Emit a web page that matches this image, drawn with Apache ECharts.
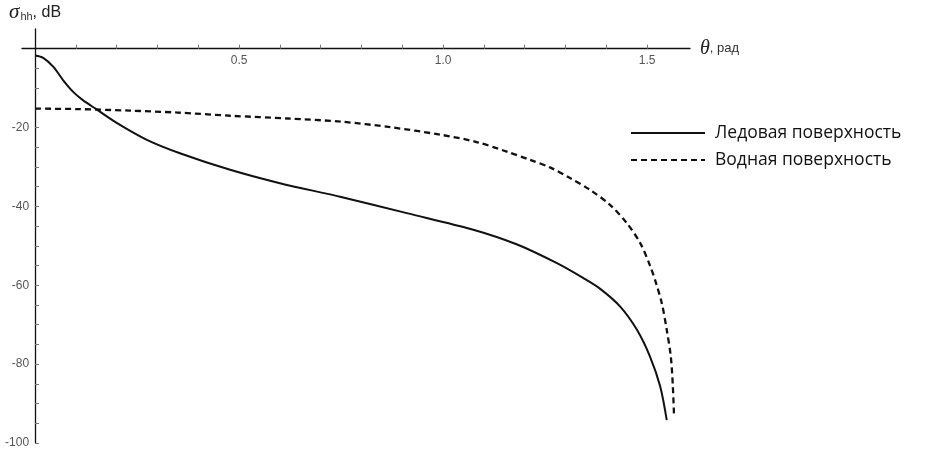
<!DOCTYPE html>
<html>
<head>
<meta charset="utf-8">
<script src="https://cdn.jsdelivr.net/npm/echarts@6/dist/echarts.min.js"></script>
<style>
    html, body { margin: 0; padding: 0; background: #fff; }
    #chart { width: 933px; height: 450px; }
</style>
</head>
<body>
<div id="chart"></div>
<script>
// Ледовая поверхность (сплошная)
let thetaIce = [0, 0.02, 0.045, 0.069, 0.094, 0.118, 0.151, 0.2, 0.274, 0.355, 0.478, 0.6, 0.75, 0.911, 1.074, 1.18, 1.279, 1.344, 1.385, 1.434, 1.475, 1.507, 1.532, 1.548];
let sigmaIce = [-1.7, -2.3, -4.6, -8.0, -11.0, -13.1, -15.4, -18.8, -23.1, -26.5, -30.7, -34.1, -37.6, -41.7, -45.9, -49.6, -54.4, -58.2, -60.9, -65.4, -71.3, -78.1, -85.7, -94.2];
// Водная поверхность (пунктир)
let thetaWater = [0, 0.1, 0.233, 0.35, 0.478, 0.62, 0.75, 0.87, 0.993, 1.08, 1.156, 1.213, 1.262, 1.311, 1.36, 1.409, 1.45, 1.483, 1.507, 1.522, 1.536, 1.548, 1.558, 1.563, 1.566];
let sigmaWater = [-15.2, -15.3, -15.7, -16.2, -17.0, -17.7, -18.5, -19.9, -21.8, -23.6, -26.1, -28.2, -30.1, -32.8, -35.8, -39.6, -44.2, -49.3, -55.0, -59.5, -64.6, -71.3, -78.1, -85.7, -93.5];

let xTicks = [0.1, 0.2, 0.3, 0.4, 0.5, 0.6, 0.7, 0.8, 0.9, 1.0, 1.1, 1.2, 1.3, 1.4, 1.5];
let xLabels = [0.5, 1.0, 1.5];
let yTicks = [-100, -95, -90, -85, -80, -75, -70, -65, -60, -55, -50, -45, -40, -35, -30, -25, -20, -15, -10, -5];
let yLabels = [-100, -80, -60, -40, -20];
let legendNames = ['Ледовая поверхность', 'Водная поверхность'];

let xMin = -0.032, xMax = 1.605, yMin = -100, yMax = 5;
let gridW = 668, gridH = 414;

function pairs(xs, ys){
    let out = [];
    for(let i = 0; i < xs.length; i++){
        out.push([xs[i], ys[i]]);
    }
    return out;
}

let chart = echarts.init(document.getElementById('chart'));
let option = {
    animation: false,
    grid: { left: 22, top: 29, width: gridW, height: gridH, outerBoundsMode: 'none', containLabel: false },
    legend: {
        data: legendNames,
        orient: 'vertical',
        left: 625,
        top: 119,
        itemWidth: 74,
        itemHeight: 14,
        itemGap: 9,
        itemStyle: { opacity: 0 },
        textStyle: { fontFamily: 'Open Sans', fontSize: 17.5, color: '#111', padding: [0, 0, 0, 5] }
    },
    xAxis: {
        type: 'value',
        min: xMin,
        max: xMax,
        position: 'top',
        // ось θ проходит через 0 дБ
        offset: -gridH * yMax / (yMax - yMin),
        name: '{t|θ}{r|, рад}',
        nameLocation: 'end',
        nameGap: 10,
        nameTextStyle: {
            rich: {
                t: { fontFamily: 'Liberation Serif', fontStyle: 'italic', fontSize: 20, color: '#222' },
                r: { fontFamily: 'Liberation Sans', fontSize: 13, color: '#333' }
            }
        },
        axisLine: { onZero: false, lineStyle: { color: '#111', width: 1.3 } },
        axisTick: { show: true, inside: false, length: 4, customValues: xTicks, lineStyle: { color: '#777' } },
        axisLabel: {
            customValues: xLabels,
            inside: true,
            margin: 6,
            fontFamily: 'Liberation Sans',
            fontSize: 12,
            color: '#555',
            formatter: (v) => v.toFixed(1)
        },
        splitLine: { show: false }
    },
    yAxis: {
        type: 'value',
        min: yMin,
        max: yMax,
        position: 'left',
        // ось σ проходит через θ = 0
        offset: -gridW * (0 - xMin) / (xMax - xMin),
        name: '{s|σ}{h|hh}{d|, dB}',
        nameLocation: 'end',
        nameGap: 6,
        nameTextStyle: {
            rich: {
                s: { fontFamily: 'Liberation Serif', fontStyle: 'italic', fontSize: 21, color: '#222' },
                h: { fontFamily: 'Liberation Sans', fontSize: 11, color: '#333', padding: [8, 0, 0, 1] },
                d: { fontFamily: 'Liberation Sans', fontSize: 16, color: '#222' }
            }
        },
        axisLine: { onZero: false, lineStyle: { color: '#111', width: 1.3 } },
        axisTick: { show: true, inside: true, length: 4, customValues: yTicks, lineStyle: { color: '#777' } },
        axisLabel: {
            customValues: yLabels,
            margin: 6,
            fontFamily: 'Liberation Sans',
            fontSize: 12,
            color: '#555'
        },
        splitLine: { show: false }
    },
    series: [
        {
            name: legendNames[0],
            type: 'line',
            data: pairs(thetaIce, sigmaIce),
            symbol: 'none',
            smooth: 0.3,
            lineStyle: { color: '#111', width: 2 },
            itemStyle: { color: '#111' }
        },
        {
            name: legendNames[1],
            type: 'line',
            data: pairs(thetaWater, sigmaWater),
            symbol: 'none',
            smooth: 0.3,
            lineStyle: { color: '#111', width: 2.3, type: [6, 4] },
            itemStyle: { color: '#111' }
        }
    ]
};
chart.setOption(option);
</script>
</body>
</html>
